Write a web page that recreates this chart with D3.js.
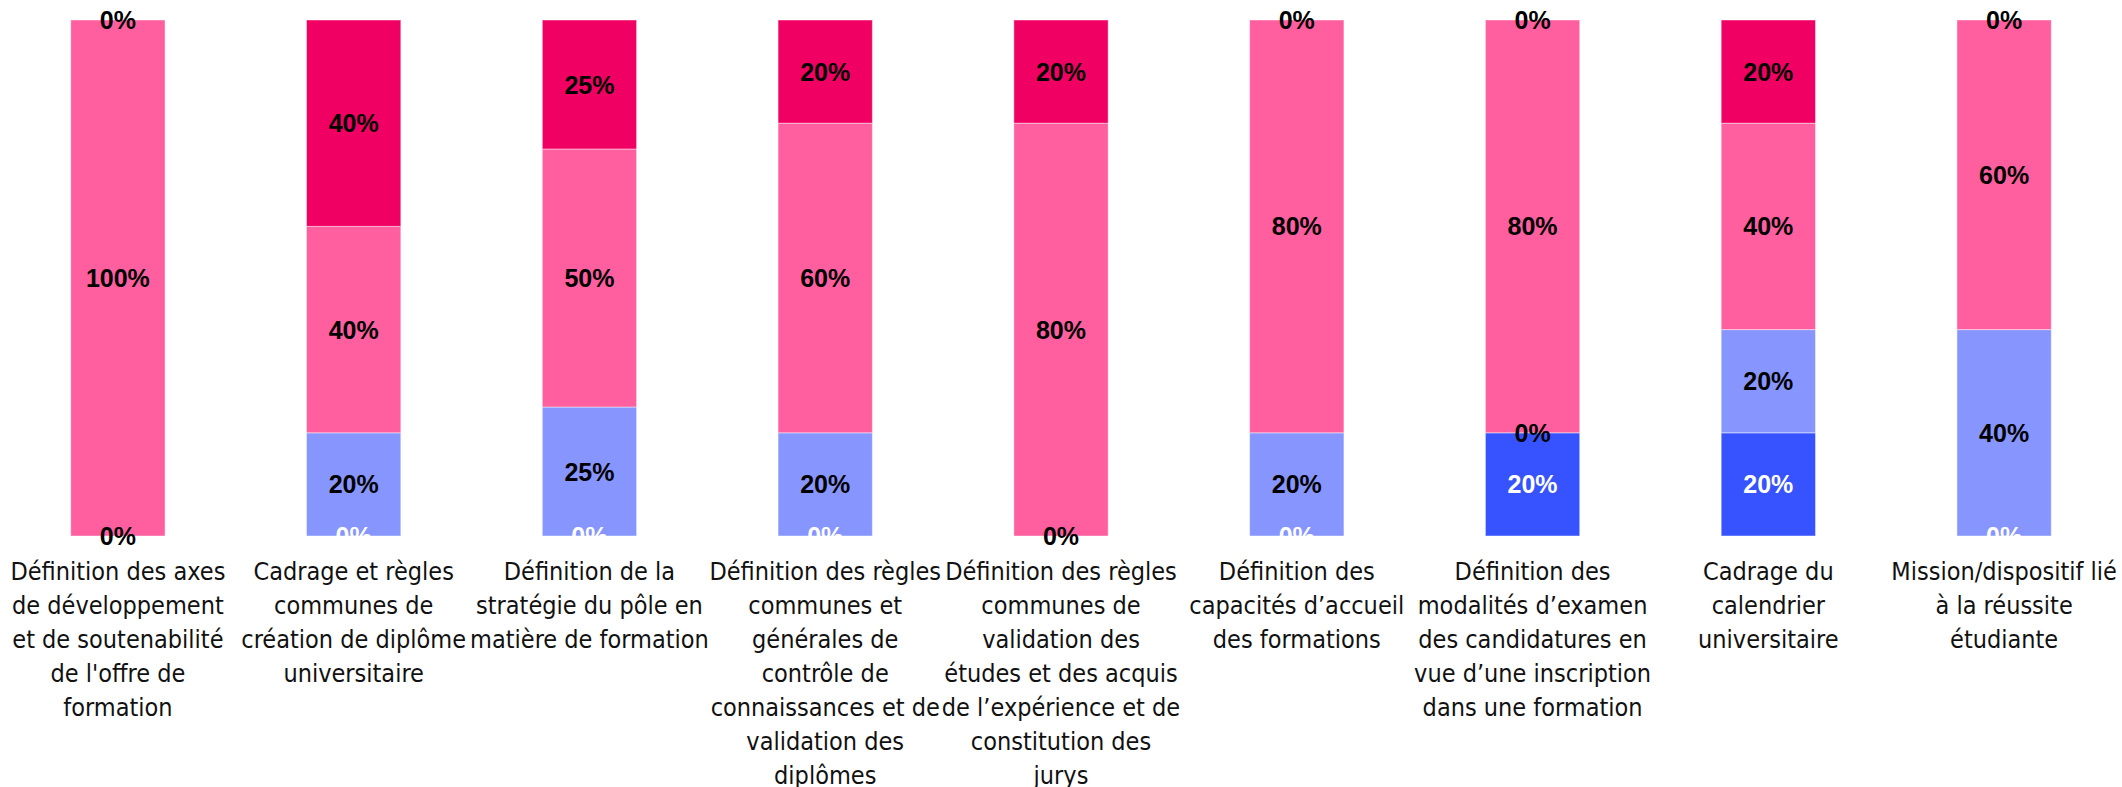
<!DOCTYPE html>
<html>
<head>
<meta charset="utf-8">
<script src="https://cdn.jsdelivr.net/npm/d3@7"></script>
<style>
  html, body { margin: 0; padding: 0; background: #ffffff; }
  svg { display: block; }
  .cat-label { font-family: "Liberation Sans Narrow", "DejaVu Sans Condensed", sans-serif; }
  .val-label { font-family: "Liberation Sans", Arial, sans-serif; }
</style>
</head>
<body>
<svg id="chart" width="2122" height="787"></svg>
<script>
// Categories (explicit line breaks for the axis labels)
const categories = [
  "Définition des axes\nde développement\net de soutenabilité\nde l'offre de\nformation",
  "Cadrage et règles\ncommunes de\ncréation de diplôme\nuniversitaire",
  "Définition de la\nstratégie du pôle en\nmatière de formation",
  "Définition des règles\ncommunes et\ngénérales de\ncontrôle de\nconnaissances et de\nvalidation des\ndiplômes",
  "Définition des règles\ncommunes de\nvalidation des\nétudes et des acquis\nde l’expérience et de\nconstitution des\njurys",
  "Définition des\ncapacités d’accueil\ndes formations",
  "Définition des\nmodalités d’examen\ndes candidatures en\nvue d’une inscription\ndans une formation",
  "Cadrage du\ncalendrier\nuniversitaire",
  "Mission/dispositif lié\nà la réussite\nétudiante"
];

// Series values in percent (null = no value reported)
const seriesA = [null, 0, 0, 0, null, 0, 20, 20, 0];
const seriesB = [0, 20, 25, 20, 0, 20, 0, 20, 40];
const seriesC = [100, 40, 50, 60, 80, 80, 80, 40, 60];
const seriesD = [0, 40, 25, 20, 20, 0, 0, 20, 0];

const seriesKeys = ["a", "b", "c", "d"];
const seriesColors = ["#3753ff", "#8796ff", "#ff5e9f", "#f10064"];
const labelColors = ["#ffffff", "#000000", "#000000", "#000000"];

const W = 2122, H = 787;
const margin = { top: 20, bottom: 251, left: 0, right: 0 };

const rows = categories.map((c, i) => ({
  cat: c,
  a: seriesA[i], b: seriesB[i], c: seriesC[i], d: seriesD[i]
}));

const svg = d3.select("#chart");

const x = d3.scaleBand()
  .domain(categories)
  .range([margin.left, W - margin.right])
  .paddingInner(0.6)
  .paddingOuter(0.3);

const y = d3.scaleLinear()
  .domain([0, 100])
  .range([H - margin.bottom, margin.top]);

const stack = d3.stack()
  .keys(seriesKeys)
  .value((d, k) => d[k] == null ? 0 : d[k]);

const layers = stack(rows);

// Bars
const gBars = svg.append("g");
layers.forEach((layer, li) => {
  gBars.selectAll(null)
    .data(layer)
    .join("rect")
    .attr("x", d => x(d.data.cat))
    .attr("width", x.bandwidth())
    .attr("y", d => y(d[1]))
    .attr("height", d => y(d[0]) - y(d[1]))
    .attr("fill", seriesColors[li])
    .attr("stroke", "rgba(255,255,255,0.45)")
    .attr("stroke-width", 1);
});

// Value labels, centred on each segment
const gLabels = svg.append("g");
layers.forEach((layer, li) => {
  const key = seriesKeys[li];
  gLabels.selectAll(null)
    .data(layer.filter(d => d.data[key] != null))
    .join("text")
    .attr("class", "val-label")
    .attr("x", d => x(d.data.cat) + x.bandwidth() / 2)
    .attr("y", d => (y(d[0]) + y(d[1])) / 2)
    .attr("dy", "0.36em")
    .attr("text-anchor", "middle")
    .attr("font-size", 25)
    .attr("font-weight", "bold")
    .attr("fill", labelColors[li])
    .text(d => d.data[key] + "%");
});

// Category axis labels
const xAxis = svg.append("g")
  .attr("transform", `translate(0,${H - margin.bottom})`)
  .call(d3.axisBottom(x).tickSize(0).tickFormat(""));
xAxis.select(".domain").remove();

const lineH = 34;
xAxis.selectAll(".tick")
  .append("text")
  .attr("class", "cat-label")
  .attr("fill", "#111111")
  .attr("font-size", 25)
  .attr("text-anchor", "middle")
  .attr("y", 44)
  .each(function (d) {
    const lines = d.split("\n");
    const t = d3.select(this);
    lines.forEach((ln, i) => {
      t.append("tspan").attr("x", 0).attr("dy", i === 0 ? 0 : lineH).text(ln);
    });
  });
</script>
</body>
</html>
